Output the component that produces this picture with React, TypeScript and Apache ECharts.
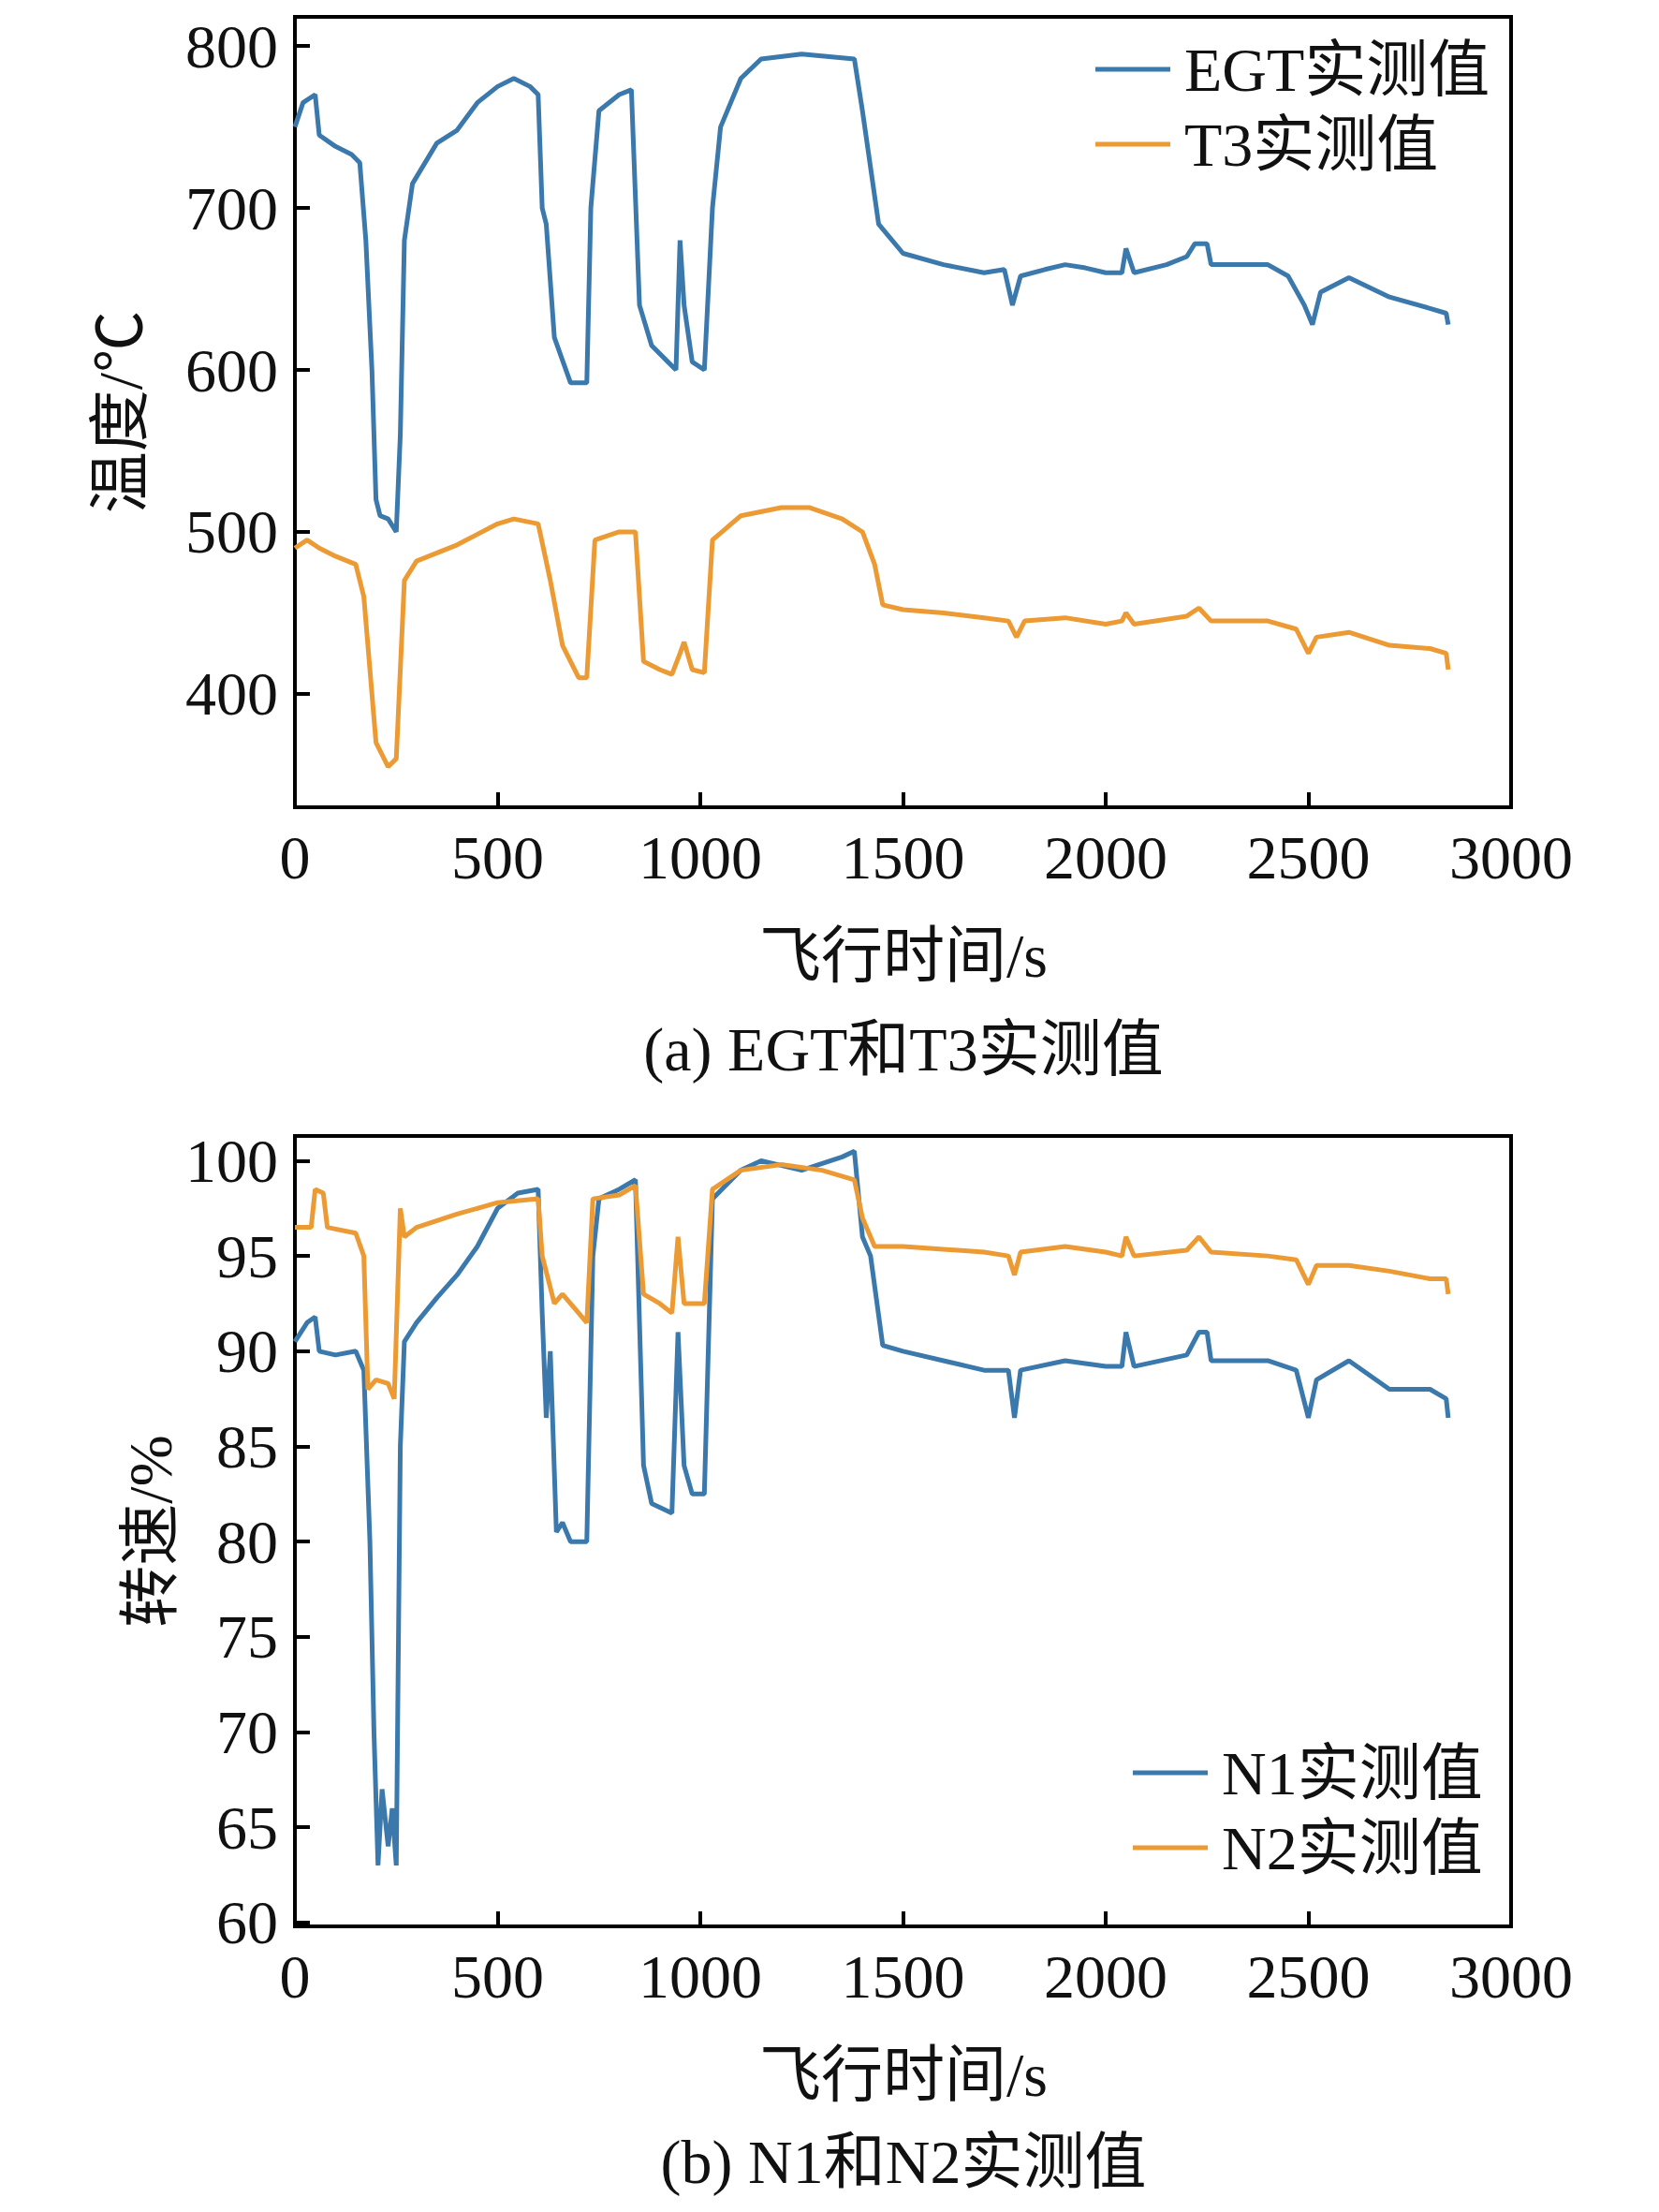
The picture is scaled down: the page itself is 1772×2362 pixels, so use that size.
import { useEffect, useRef } from 'react'
import * as echarts from 'echarts'

const egt: [number, number][] = [
  [0, 750], [20, 765], [50, 770], [60, 745], [100, 738], [140, 733], [160, 728], [175, 680], [190, 600], [200, 520],
  [210, 510], [230, 508], [250, 500], [260, 560], [270, 680], [290, 715], [350, 740], [400, 748], [450, 765], [500, 775],
  [540, 780], [580, 775], [600, 770], [610, 700], [620, 690], [640, 620], [680, 592], [720, 592], [730, 700], [750, 760],
  [800, 770], [830, 773], [850, 640], [880, 615], [920, 605], [940, 600], [950, 680], [960, 640], [980, 605], [1010, 600],
  [1030, 700], [1050, 750], [1100, 780], [1150, 792], [1250, 795], [1380, 792], [1400, 760], [1440, 690], [1500, 672],
  [1600, 665], [1700, 660], [1750, 662], [1770, 640], [1790, 658], [1850, 662], [1900, 665], [1950, 663], [2000, 660],
  [2040, 660], [2050, 675], [2070, 660], [2150, 665], [2200, 670], [2220, 678], [2250, 678], [2260, 665], [2400, 665],
  [2450, 658], [2490, 640], [2510, 628], [2530, 648], [2600, 657], [2700, 645], [2800, 638], [2840, 635], [2845, 628],
]
const t3: [number, number][] = [
  [0, 490], [30, 495], [60, 490], [100, 485], [150, 480], [170, 460], [200, 370], [230, 355], [250, 360], [270, 470],
  [300, 482], [400, 492], [500, 505], [540, 508], [600, 505], [630, 470], [660, 430], [700, 410], [720, 410], [740, 495],
  [800, 500], [840, 500], [860, 420], [900, 415], [930, 412], [950, 425], [960, 432], [980, 415], [1010, 413], [1030, 495],
  [1100, 510], [1200, 515], [1270, 515], [1350, 508], [1400, 500], [1430, 480], [1450, 455], [1500, 452], [1600, 450],
  [1700, 447], [1760, 445], [1780, 435], [1800, 445], [1900, 447], [2000, 443], [2040, 445], [2050, 450], [2070, 443],
  [2200, 448], [2230, 453], [2260, 445], [2400, 445], [2470, 440], [2500, 425], [2520, 435], [2600, 438], [2700, 430],
  [2800, 428], [2840, 425], [2845, 415],
]
const n1: [number, number][] = [
  [0, 90.5], [30, 91.5], [50, 91.8], [60, 90], [100, 89.8], [150, 90], [170, 89], [185, 80], [195, 70], [205, 63],
  [215, 67], [230, 64], [240, 66], [250, 63], [260, 85], [270, 90.5], [300, 91.5], [350, 92.8], [400, 94], [450, 95.5],
  [500, 97.5], [550, 98.3], [600, 98.5], [610, 92], [620, 86.5], [630, 90], [645, 80.5], [660, 81], [680, 80], [720, 80],
  [735, 95], [750, 98], [800, 98.5], [840, 99], [860, 84], [880, 82], [930, 81.5], [945, 91], [960, 84], [980, 82.5],
  [1010, 82.5], [1030, 98], [1100, 99.5], [1150, 100], [1250, 99.5], [1350, 100.2], [1380, 100.5], [1400, 96], [1420, 95],
  [1450, 90.3], [1500, 90], [1600, 89.5], [1700, 89], [1760, 89], [1775, 86.5], [1790, 89], [1900, 89.5], [2000, 89.2],
  [2040, 89.2], [2050, 91], [2070, 89.2], [2200, 89.8], [2230, 91], [2250, 91], [2260, 89.5], [2400, 89.5], [2470, 89],
  [2500, 86.5], [2520, 88.5], [2600, 89.5], [2700, 88], [2800, 88], [2840, 87.5], [2845, 86.5],
]
const n2: [number, number][] = [
  [0, 96.5], [40, 96.5], [50, 98.5], [70, 98.3], [80, 96.5], [150, 96.2], [170, 95], [180, 88], [200, 88.5], [230, 88.3],
  [245, 87.5], [260, 97.5], [270, 96], [300, 96.5], [400, 97.2], [500, 97.8], [600, 98], [610, 95], [640, 92.5], [660, 93],
  [700, 92], [720, 91.5], [735, 98], [800, 98.2], [840, 98.7], [860, 93], [900, 92.5], [930, 92], [945, 96], [960, 92.5],
  [1010, 92.5], [1030, 98.5], [1100, 99.5], [1200, 99.8], [1300, 99.5], [1380, 99], [1400, 97], [1430, 95.5], [1500, 95.5],
  [1700, 95.2], [1760, 95], [1775, 94], [1790, 95.2], [1900, 95.5], [2000, 95.2], [2040, 95], [2050, 96], [2070, 95],
  [2200, 95.3], [2230, 96], [2260, 95.2], [2400, 95], [2470, 94.8], [2500, 93.5], [2520, 94.5], [2600, 94.5], [2700, 94.2],
  [2800, 93.8], [2840, 93.8], [2845, 93],
]
const xTicks = [0, 500, 1000, 1500, 2000, 2500, 3000]
const tempTicks = [400, 500, 600, 700, 800]
const speedTicks = [60, 65, 70, 75, 80, 85, 90, 95, 100]

const BLUE = '#3b79ad'
const ORANGE = '#ec9a34'
const FONT = '"Liberation Serif", "Noto Sans CJK SC", serif'
const FS = 66

export default function App() {
  const ref = useRef<HTMLDivElement>(null)
  useEffect(() => {
    document.body.style.margin = '0'
    const chart = echarts.init(ref.current!, null, { renderer: 'svg' })
    const txt = { fontFamily: FONT, fontSize: FS, color: '#111' }
    const line = { lineStyle: { color: '#000', width: 4 } }
    const xAxis = (gridIndex: number) => ({
      type: 'value', gridIndex, min: 0, max: 3000,
      axisLine: { ...line, onZero: false },
      axisTick: { inside: true, length: 16, ...line, customValues: xTicks },
      axisLabel: { ...txt, margin: 20, customValues: xTicks, formatter: (v: number) => String(v) },
      splitLine: { show: false },
    })
    const yAxis = (gridIndex: number, min: number, max: number, ticks: number[]) => ({
      type: 'value', gridIndex, min, max,
      axisLine: { ...line, onZero: false },
      axisTick: { inside: true, length: 16, ...line, customValues: ticks },
      axisLabel: { ...txt, margin: 18, customValues: ticks, formatter: (v: number) => String(v) },
      splitLine: { show: false },
    })
    const ser = (name: string, data: [number, number][], color: string, idx: number) => ({
      name, type: 'line', data, xAxisIndex: idx, yAxisIndex: idx, showSymbol: false,
      lineStyle: { color, width: 5 }, itemStyle: { color },
    })
    const label = (text: string, x: number, y: number, rotation = 0) => ({
      type: 'text', x, y, rotation,
      style: { text, font: `${FS}px ${FONT}`, fill: '#111', align: 'center', verticalAlign: 'middle' },
    })
    const legend = (data: string[], left: number, top: number) => ({
      data, orient: 'vertical', left, top, itemGap: 14,
      itemWidth: 80, itemHeight: 5, icon: 'rect', textStyle: { ...txt, padding: [0, 0, 0, 10] },
    })
    chart.setOption({
      animation: false,
      backgroundColor: '#fff',
      grid: [
        { left: 315, right: 158, top: 18, height: 844, show: true, borderColor: '#000', borderWidth: 4 },
        { left: 315, right: 158, top: 1213, height: 844, show: true, borderColor: '#000', borderWidth: 4 },
      ],
      xAxis: [xAxis(0), xAxis(1)],
      yAxis: [yAxis(0, 330, 818, tempTicks), yAxis(1, 59.8, 101.3, speedTicks)],
      legend: [
        legend(['EGT实测值', 'T3实测值'], 1165, 36),
        legend(['N1实测值', 'N2实测值'], 1205, 1855),
      ],
      series: [
        ser('EGT实测值', egt, BLUE, 0),
        ser('T3实测值', t3, ORANGE, 0),
        ser('N1实测值', n1, BLUE, 1),
        ser('N2实测值', n2, ORANGE, 1),
      ],
      graphic: [
        label('温度/℃', 128, 440, Math.PI / 2),
        label('转速/%', 160, 1635, Math.PI / 2),
        label('飞行时间/s', 965, 1020),
        label('(a) EGT和T3实测值', 965, 1120),
        label('飞行时间/s', 965, 2215),
        label('(b) N1和N2实测值', 965, 2308),
      ],
    })
    return () => chart.dispose()
  }, [])
  return <div ref={ref} style={{ width: 1772, height: 2362 }} />
}
